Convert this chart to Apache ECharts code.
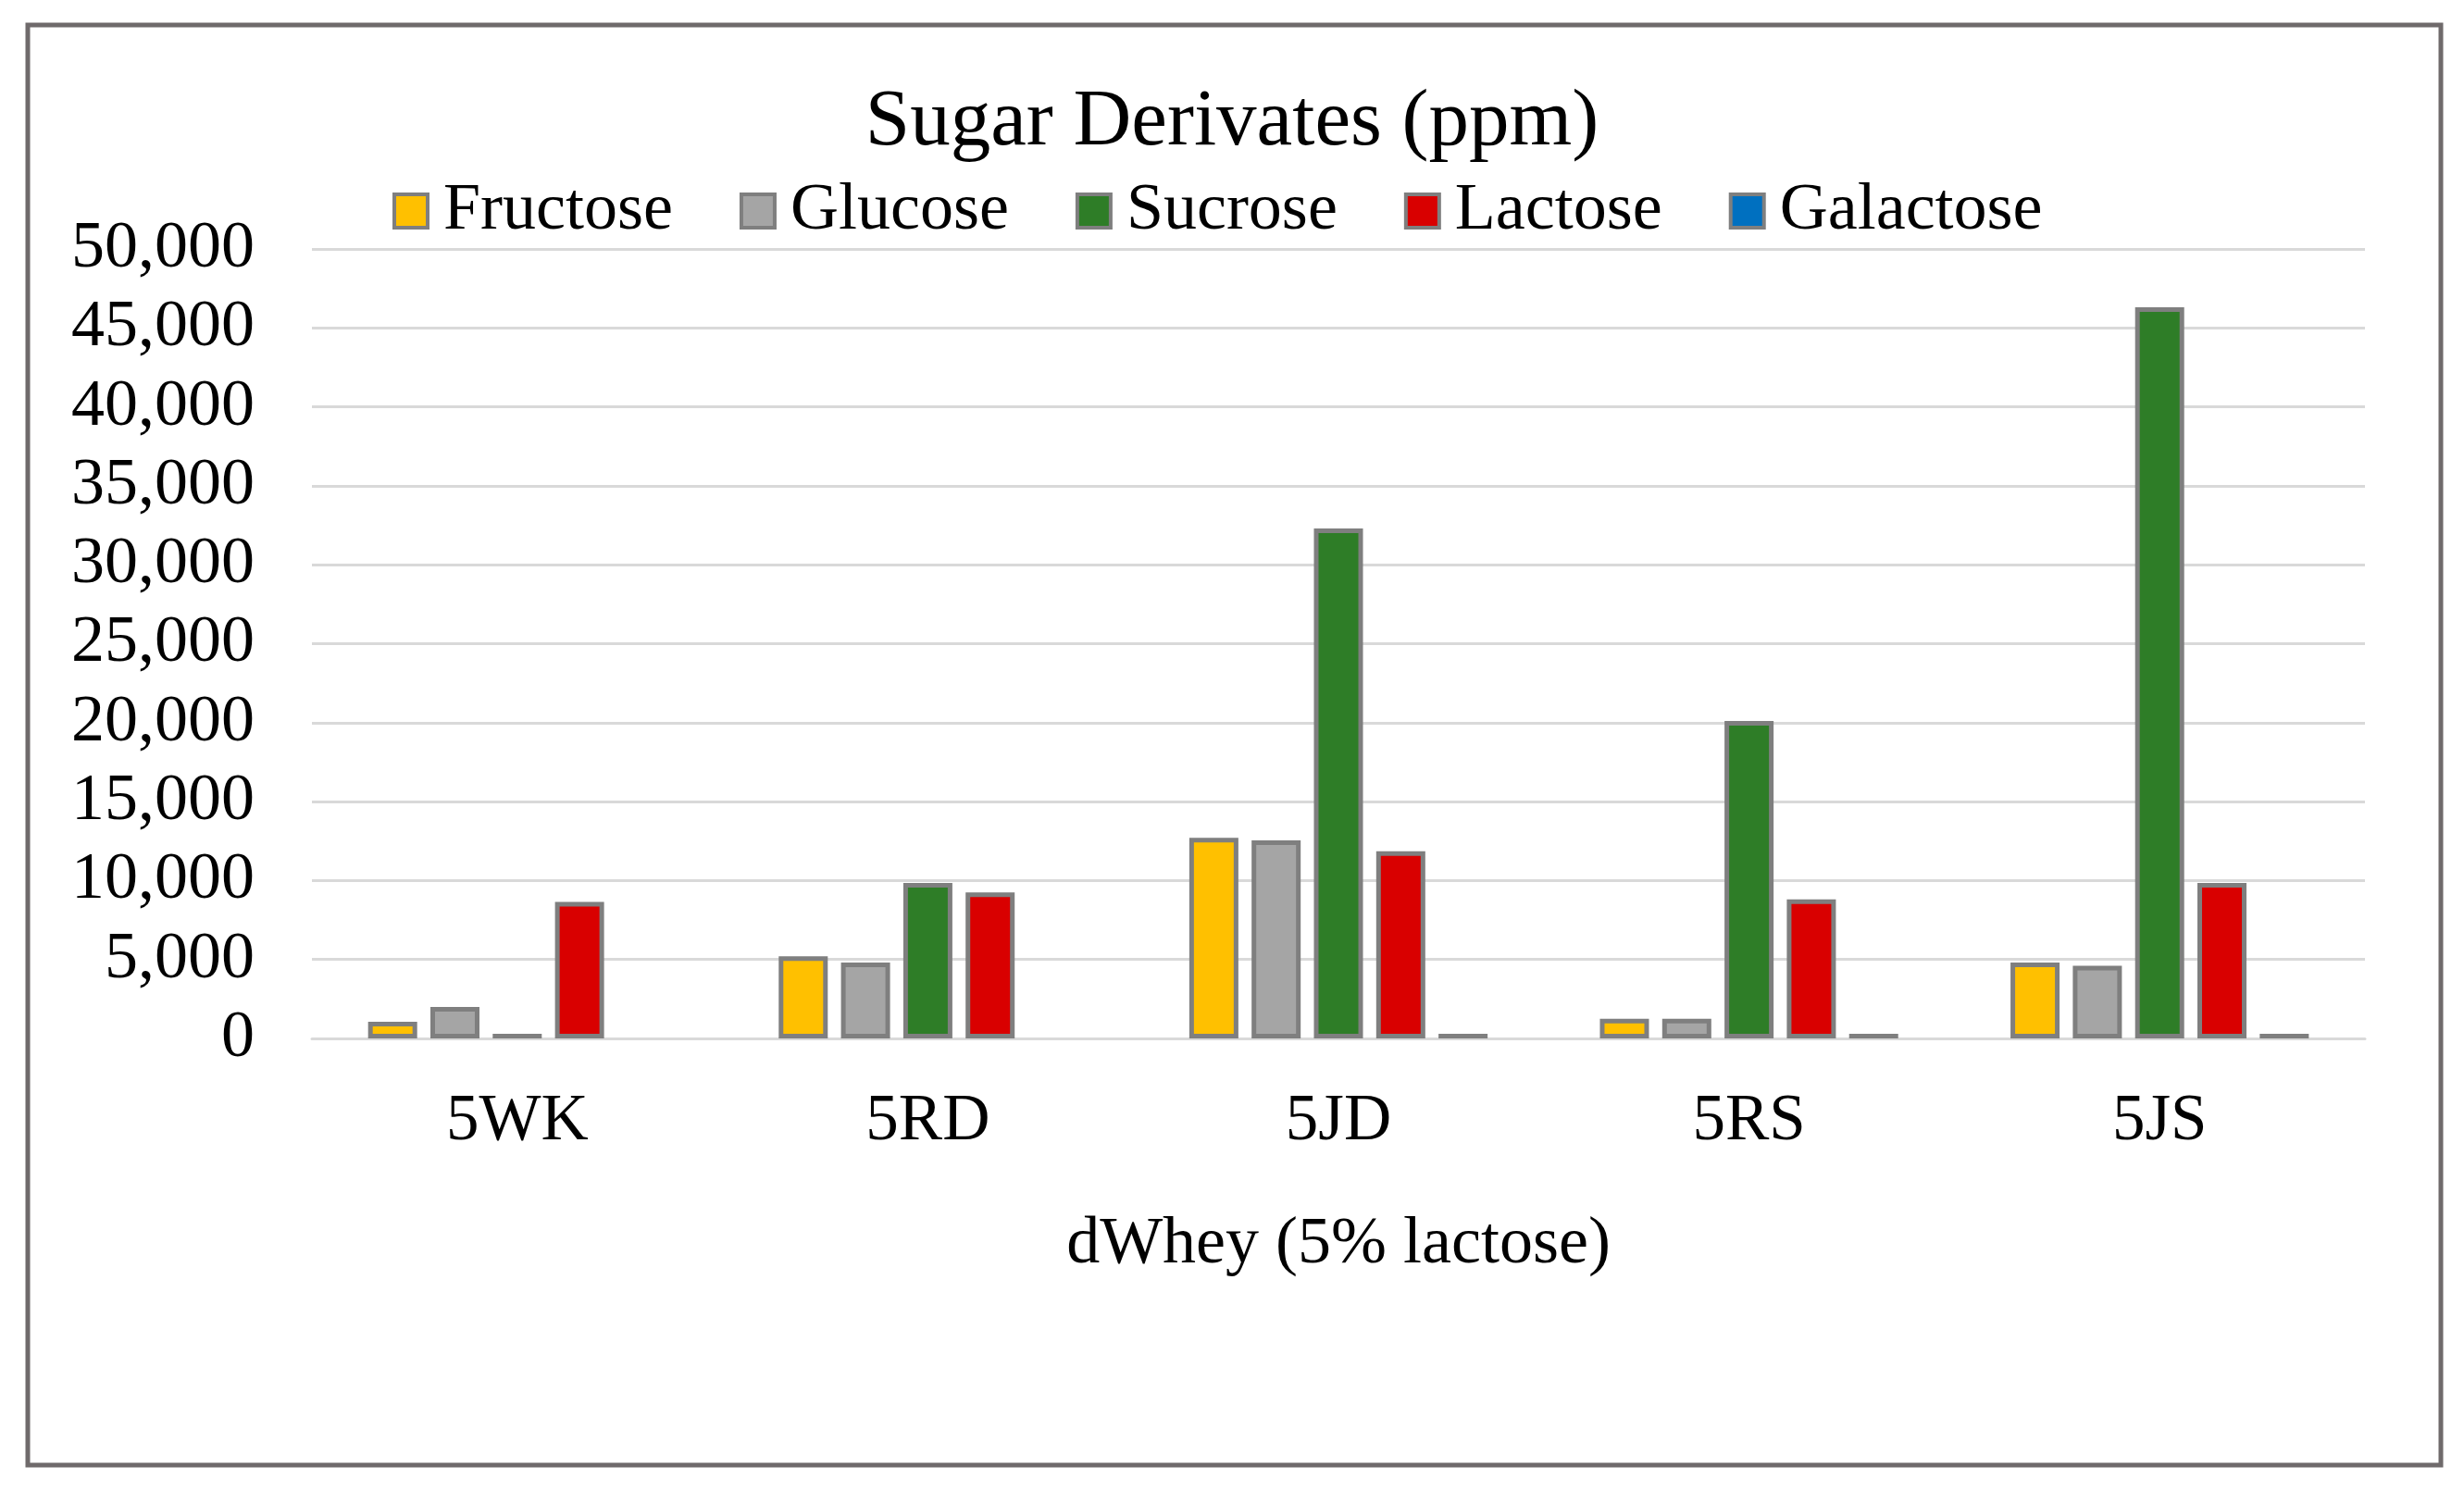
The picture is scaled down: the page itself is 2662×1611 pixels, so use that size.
<!DOCTYPE html>
<html>
<head>
<meta charset="utf-8">
<script src="https://cdn.jsdelivr.net/npm/echarts@6/dist/echarts.min.js"></script>
<style>
html,body{margin:0;padding:0;background:#fff;}
#chart{width:2662px;height:1611px;}
</style>
</head>
<body>
<div id="chart"></div>
<script>
const categories = ['5WK', '5RD', '5JD', '5RS', '5JS'];
const seriesNames = ['Fructose', 'Glucose', 'Sucrose', 'Lactose', 'Galactose'];
const fructose = [1050, 5200, 12700, 1250, 4800];
const glucose = [2000, 4800, 12550, 1250, 4600];
const sucrose = [300, 9850, 32300, 20100, 46300];
const lactose = [8650, 9250, 11850, 8800, 9850];
const galactose = [null, null, 300, 300, 300];
const seriesColors = ['#FFC000', '#A5A5A5', '#2E7D27', '#D90000', '#0070C0'];
const yTicks = [0, 5000, 10000, 15000, 20000, 25000, 30000, 35000, 40000, 45000, 50000];

const FONT = "'Liberation Serif', 'Times New Roman', serif";
const seriesData = [fructose, glucose, sucrose, lactose, galactose];

const chart = echarts.init(document.getElementById('chart'));
const option = {
  backgroundColor: '#ffffff',
  animation: false,
  title: {
    text: 'Sugar Derivates (ppm)',
    left: 'center',
    top: 90,
    padding: 0,
    textStyle: {fontFamily: FONT, fontSize: 87, fontWeight: 'normal', color: '#000', lineHeight: 87}
  },
  legend: {
    data: seriesNames,
    left: 424,
    top: 192,
    padding: 0,
    icon: 'rect',
    itemWidth: 36,
    itemHeight: 36,
    itemGap: 72,
    itemStyle: {borderColor: '#7F7F7F', borderWidth: 4},
    textStyle: {fontFamily: FONT, fontSize: 72, color: '#000', lineHeight: 72, padding: [0, 0, 0, 12]}
  },
  grid: {left: 337, right: 107, top: 269, bottom: 489, containLabel: false},
  xAxis: {
    type: 'category',
    data: categories,
    axisLine: {show: true, lineStyle: {color: '#D9D9D9', width: 3}},
    axisTick: {show: false},
    axisLabel: {fontFamily: FONT, fontSize: 71, color: '#000', margin: 55, lineHeight: 71},
    name: 'dWhey (5% lactose)',
    nameLocation: 'middle',
    nameGap: 187,
    nameTextStyle: {fontFamily: FONT, fontSize: 72, color: '#000', lineHeight: 72, verticalAlign: 'top'}
  },
  yAxis: {
    type: 'value',
    min: yTicks[0],
    max: yTicks[yTicks.length - 1],
    interval: yTicks[1] - yTicks[0],
    axisLine: {show: false},
    axisTick: {show: false},
    splitLine: {show: true, lineStyle: {color: '#D9D9D9', width: 3}},
    axisLabel: {
      fontFamily: FONT, fontSize: 72, color: '#000', margin: 62,
      lineHeight: 72,
      padding: [8, 0, 0, 0],
      formatter: v => v.toLocaleString('en-US')
    }
  },
  graphic: [{
    type: 'rect',
    shape: {x: 30, y: 27, width: 2607, height: 1556},
    style: {fill: 'none', stroke: '#6F6A6B', lineWidth: 5},
    silent: true,
    z: 100
  }],
  series: seriesNames.map((name, i) => ({
    name: name,
    type: 'bar',
    data: seriesData[i],
    barWidth: 53,
    barGap: '27%',
    itemStyle: {color: seriesColors[i], borderColor: '#7F7F7F', borderWidth: 5}
  }))
};
chart.setOption(option);
</script>
</body>
</html>
